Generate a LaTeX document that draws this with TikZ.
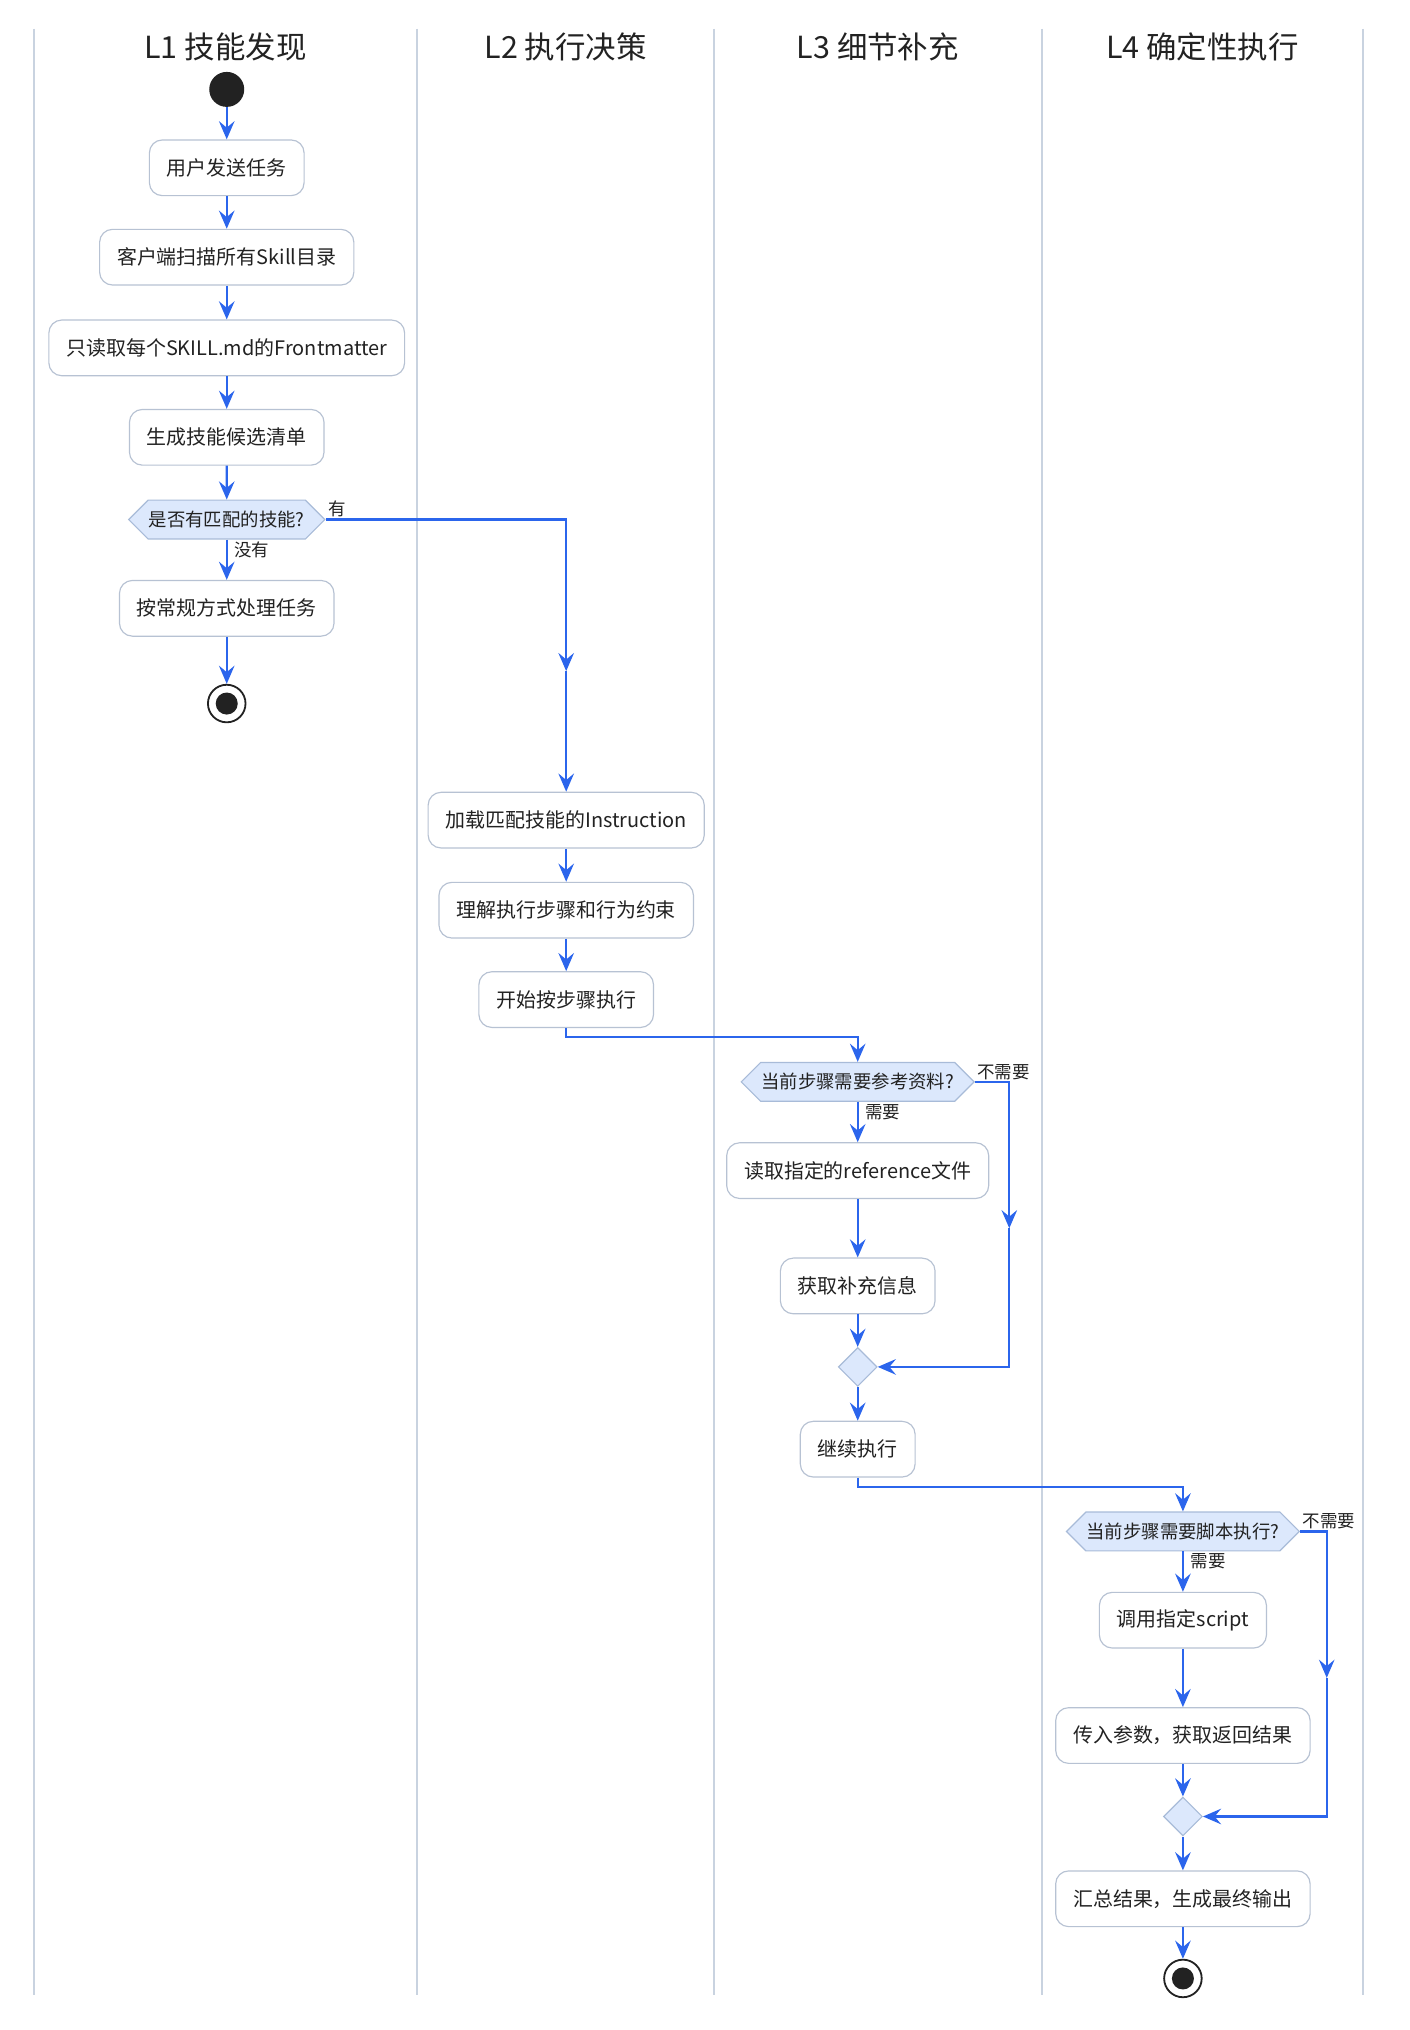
\documentclass[tikz,border=0pt]{standalone}
\usepackage{fontspec}
\setmainfont{Noto Sans CJK SC}
\usetikzlibrary{arrows.meta,shapes.geometric,shapes.symbols}
\definecolor{ink}{HTML}{222222}
\definecolor{flowblue}{HTML}{2B65EC}
\definecolor{laneline}{HTML}{C9D3E0}
\definecolor{boxline}{HTML}{B7C2D3}
\definecolor{hexfill}{HTML}{DCE8FC}
\definecolor{hexline}{HTML}{A8BBD8}
\tikzset{
  act/.style={draw=boxline,fill=white,rounded corners=10pt,line width=0.9pt,
    minimum height=43pt,inner xsep=13.5pt,text=ink,font=\fontsize{15.4}{18}\selectfont},
  ask/.style={signal,signal to=east and west,signal pointer angle=90,draw=hexline,
    fill=hexfill,line width=0.9pt,minimum height=30pt,inner xsep=0.5pt,inner ysep=0pt,
    text=ink,font=\fontsize{14.2}{16}\selectfont},
  merge/.style={diamond,draw=hexline,fill=hexfill,line width=0.9pt,
    minimum width=30pt,minimum height=30pt,inner sep=0pt},
  flow/.style={draw=flowblue,line width=1.8pt,-{Stealth[length=14pt,width=12pt,inset=5pt]}},
  lane/.style={draw=laneline,line width=1.8pt},
  title/.style={text=ink,font=\fontsize{23.5}{27}\selectfont},
  tag/.style={text=ink,inner sep=1pt,font=\fontsize{13.5}{15}\selectfont}
}
\begin{document}
\begin{tikzpicture}[x=1pt,y=-1pt]
  \useasboundingbox (0,0) rectangle (1088.2,1566.8);
  % swimlanes
  \foreach \x in {26,322,551,804,1052}
    \draw[lane] (\x,22) -- (\x,1540);
  \node[title] (h1) at (174,36) {L1 技能发现};
  \node[title] (h2) at (436.5,36) {L2 执行决策};
  \node[title] (h3) at (677.5,36) {L3 细节补充};
  \node[title] (h4) at (928,36) {L4 确定性执行};
  % L1
  \node[circle,fill=ink,minimum size=27pt,inner sep=0pt] (start) at (175,69) {};
  \node[act] (send) at (175,129.5) {用户发送任务};
  \node[act] (scan) at (175,198.5) {客户端扫描所有Skill目录};
  \node[act] (front) at (175,268.5) {只读取每个SKILL.md的Frontmatter};
  \node[act] (list) at (175,337.5) {生成技能候选清单};
  \node[ask] (haskill) at (175,401) {是否有匹配的技能?};
  \node[act] (manual) at (175,469.5) {按常规方式处理任务};
  \node[circle,draw=ink,line width=1.4pt,fill=white,minimum size=29pt,inner sep=0pt] (stop1) at (175,543) {};
  \node[circle,fill=ink,minimum size=17pt,inner sep=0pt] (dot1) at (stop1) {};
  % L2
  \node[act] (load) at (437,633) {加载匹配技能的Instruction};
  \node[act] (plan) at (437,702.5) {理解执行步骤和行为约束};
  \node[act] (run) at (437,771.5) {开始按步骤执行};
  % L3
  \node[ask] (refask) at (662,835) {当前步骤需要参考资料?};
  \node[act] (readref) at (662,903.5) {读取指定的reference文件};
  \node[act] (info) at (662,992.5) {获取补充信息};
  \node[merge] (merge3) at (662,1055) {};
  \node[act] (cont) at (662,1118.5) {继续执行};
  % L4
  \node[ask] (scriptask) at (913,1182) {当前步骤需要脚本执行?};
  \node[act] (callscript) at (913,1250.5) {调用指定script};
  \node[act] (passargs) at (913,1339.5) {传入参数，获取返回结果};
  \node[merge] (merge4) at (913,1402) {};
  \node[act] (summary) at (913,1465.5) {汇总结果，生成最终输出};
  \node[circle,draw=ink,line width=1.4pt,fill=white,minimum size=29pt,inner sep=0pt] (stop2) at (913,1527) {};
  \node[circle,fill=ink,minimum size=17pt,inner sep=0pt] (dot2) at (stop2) {};
  % mid arrows on long branches
  \coordinate (m1) at (437,518);
  \coordinate (m2) at (779,948);
  \coordinate (m3) at (1024,1295);
  % connectors
  \draw[flow] (start) -- (send);
  \draw[flow] (send) -- (scan);
  \draw[flow] (scan) -- (front);
  \draw[flow] (front) -- (list);
  \draw[flow] (list) -- (haskill);
  \draw[flow] (haskill.south) -- (manual.north)
    node[tag,pos=0,anchor=north west,xshift=4pt] {没有};
  \draw[flow] (manual) -- (stop1);
  \draw[flow] (haskill.east) -| (m1)
    node[tag,pos=0,anchor=south west] {有};
  \draw[flow] (m1) -- (load.north);
  \draw[flow] (load) -- (plan);
  \draw[flow] (plan) -- (run);
  \draw[flow] (run.south) -- ++(0,7) -| (refask.north);
  \draw[flow] (refask.south) -- (readref.north)
    node[tag,pos=0,anchor=north west,xshift=4pt] {需要};
  \draw[flow] (refask.east) -| (m2)
    node[tag,pos=0,anchor=south west] {不需要};
  \draw[flow] (m2) |- (merge3.east);
  \draw[flow] (readref) -- (info);
  \draw[flow] (info) -- (merge3);
  \draw[flow] (merge3) -- (cont);
  \draw[flow] (cont.south) -- ++(0,7) -| (scriptask.north);
  \draw[flow] (scriptask.south) -- (callscript.north)
    node[tag,pos=0,anchor=north west,xshift=4pt] {需要};
  \draw[flow] (scriptask.east) -| (m3)
    node[tag,pos=0,anchor=south west] {不需要};
  \draw[flow] (m3) |- (merge4.east);
  \draw[flow] (callscript) -- (passargs);
  \draw[flow] (passargs) -- (merge4);
  \draw[flow] (merge4) -- (summary);
  \draw[flow] (summary) -- (stop2);
\end{tikzpicture}
\end{document}
